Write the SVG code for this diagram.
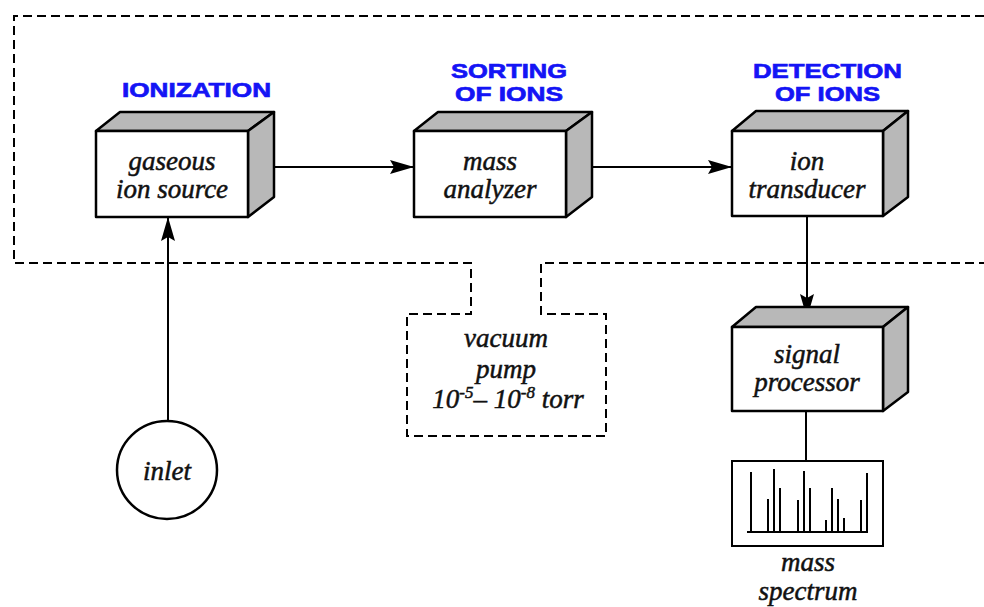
<svg xmlns="http://www.w3.org/2000/svg" width="984" height="607" viewBox="0 0 984 607">
<style>
.front{fill:#fff;stroke:#000;stroke-width:2.5;stroke-linejoin:round}
.shade{fill:#b8b8b8;stroke:#000;stroke-width:2.5;stroke-linejoin:round}
.lbl{font-family:"Liberation Serif","Times New Roman",serif;font-style:italic;font-size:27px;fill:#111;stroke:#111;stroke-width:0.5;text-anchor:middle}
.hd{font-family:"Liberation Sans",Arial,sans-serif;font-weight:bold;font-size:21px;fill:#1414f5;stroke:#1414f5;stroke-width:0.7}
.dash{fill:none;stroke:#000;stroke-width:2;stroke-dasharray:9 5}
.conn{fill:none;stroke:#000;stroke-width:2}
.bar{stroke:#000;stroke-width:2}
</style>
<defs>
<marker id="arr" viewBox="0 0 24 14" refX="24" refY="7" markerWidth="24" markerHeight="14" markerUnits="userSpaceOnUse" orient="auto">
<path d="M0,0 L24,7 L0,14 L4,7 Z" fill="#000"/>
</marker>
</defs>
<rect width="984" height="607" fill="#fff"/>
<g id="enclosure">
<path class="dash" d="M984,16 H14 V263 H471 V314 H407 V436 H606 V314 H541 V263 H984"/>
</g>
<g id="headings">
<text class="hd" x="122" y="97" textLength="149" lengthAdjust="spacingAndGlyphs">IONIZATION</text>
<text class="hd" x="451" y="78" textLength="116" lengthAdjust="spacingAndGlyphs">SORTING</text>
<text class="hd" x="455" y="101" textLength="108" lengthAdjust="spacingAndGlyphs">OF IONS</text>
<text class="hd" x="753" y="78" textLength="149" lengthAdjust="spacingAndGlyphs">DETECTION</text>
<text class="hd" x="775" y="101" textLength="105" lengthAdjust="spacingAndGlyphs">OF IONS</text>
</g>
<g id="connectors">
<line class="conn" x1="259" y1="167" x2="414" y2="167" marker-end="url(#arr)"/>
<line class="conn" x1="578" y1="167" x2="732" y2="167" marker-end="url(#arr)"/>
<line class="conn" x1="807" y1="216" x2="807" y2="318" marker-end="url(#arr)"/>
<line class="conn" x1="168" y1="420" x2="168" y2="217" marker-end="url(#arr)"/>
<line class="conn" x1="806" y1="411" x2="806" y2="461"/>
</g>
<g id="ion-source">
<polygon class="shade" points="96,131 120,112 274,112 248,131"/>
<polygon class="shade" points="248,131 274,112 274,197 248,217"/>
<rect class="front" x="96" y="131" width="152" height="86"/>
<text class="lbl" x="172" y="170">gaseous</text>
<text class="lbl" x="172" y="198">ion source</text>
</g>
<g id="mass-analyzer">
<polygon class="shade" points="414,131 438,112 592,112 566,131"/>
<polygon class="shade" points="566,131 592,112 592,197 566,217"/>
<rect class="front" x="414" y="131" width="152" height="86"/>
<text class="lbl" x="490" y="170">mass</text>
<text class="lbl" x="490" y="198">analyzer</text>
</g>
<g id="ion-transducer">
<polygon class="shade" points="732,131 756,111 908,111 883,131"/>
<polygon class="shade" points="883,131 908,111 908,197 883,216"/>
<rect class="front" x="732" y="131" width="151" height="85"/>
<text class="lbl" x="807" y="170">ion</text>
<text class="lbl" x="807" y="198">transducer</text>
</g>
<g id="signal-processor">
<polygon class="shade" points="732,327 756,307 908,307 883,327"/>
<polygon class="shade" points="883,327 908,307 908,392 883,411"/>
<rect class="front" x="732" y="327" width="151" height="84"/>
<text class="lbl" x="807" y="363">signal</text>
<text class="lbl" x="807" y="391">processor</text>
</g>
<g id="vacuum-pump">
<text class="lbl" x="506" y="347" font-size="26">vacuum</text>
<text class="lbl" x="506" y="378" font-size="26">pump</text>
<text class="lbl" x="508" y="408" font-size="26">10<tspan dy="-10" font-size="17">-5</tspan><tspan dy="10">– 10</tspan><tspan dy="-10" font-size="17">-8</tspan><tspan dy="10"> torr</tspan></text>
</g>
<g id="inlet">
<ellipse cx="167" cy="470" rx="50" ry="49" fill="#fff" stroke="#000" stroke-width="2.5"/>
<text class="lbl" x="167" y="480">inlet</text>
</g>
<g id="mass-spectrum">
<rect x="732" y="461" width="151" height="85" fill="#fff" stroke="#000" stroke-width="2"/>
<line class="bar" x1="747" y1="532" x2="868" y2="532"/>
<line class="bar" x1="751" y1="532" x2="751" y2="472"/>
<line class="bar" x1="768" y1="532" x2="768" y2="499"/>
<line class="bar" x1="774" y1="532" x2="774" y2="469"/>
<line class="bar" x1="780" y1="532" x2="780" y2="488"/>
<line class="bar" x1="798" y1="532" x2="798" y2="500"/>
<line class="bar" x1="804" y1="532" x2="804" y2="471"/>
<line class="bar" x1="810" y1="532" x2="810" y2="488"/>
<line class="bar" x1="826" y1="532" x2="826" y2="520"/>
<line class="bar" x1="832" y1="532" x2="832" y2="488"/>
<line class="bar" x1="838" y1="532" x2="838" y2="499"/>
<line class="bar" x1="844" y1="532" x2="844" y2="518"/>
<line class="bar" x1="861" y1="532" x2="861" y2="500"/>
<line class="bar" x1="867" y1="532" x2="867" y2="473"/>
<text class="lbl" x="808" y="571" font-size="25">mass</text>
<text class="lbl" x="808" y="600" font-size="25">spectrum</text>
</g>
</svg>
